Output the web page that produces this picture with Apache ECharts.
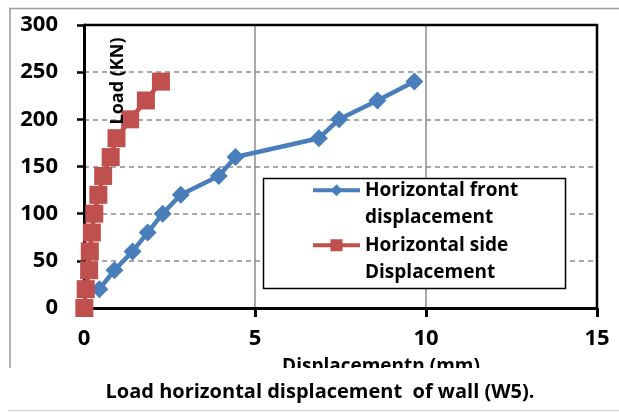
<!DOCTYPE html>
<html>
<head>
<meta charset="utf-8">
<script src="https://cdn.jsdelivr.net/npm/echarts@6/dist/echarts.min.js"></script>
<style>
  html, body { margin: 0; padding: 0; background: #fff; }
  #chart { width: 619px; height: 412px; }
</style>
</head>
<body>
<div id="chart"></div>
<script>
// Load vs. horizontal displacement of wall W5
const loadKN = [0, 20, 40, 60, 80, 100, 120, 140, 160, 180, 200, 220, 240];
const frontLoad = [20, 40, 60, 80, 100, 120, 140, 160, 180, 200, 220, 240];
const frontDisp = [0.45, 0.89, 1.42, 1.86, 2.30, 2.83, 3.94, 4.43, 6.87, 7.46, 8.58, 9.66];
const sideDisp = [0.01, 0.05, 0.15, 0.17, 0.23, 0.30, 0.42, 0.56, 0.78, 0.95, 1.35, 1.81, 2.25];
const xTicks = [0, 5, 10, 15];
const yTicks = [0, 50, 100, 150, 200, 250, 300];
const seriesNames = ['Horizontal front\ndisplacement', 'Horizontal side\nDisplacement'];

const FONT = '"Open Sans"';
const BLUE = '#4a7ebb';
const RED = '#c0504d';
const LINE_H = 27.5;

const chart = echarts.init(document.getElementById('chart'));

chart.setOption({
  animation: false,
  backgroundColor: '#fff',
  textStyle: { fontFamily: FONT },
  grid: { left: 84, right: 22, top: 25, bottom: 104, show: false },
  xAxis: {
    type: 'value',
    min: xTicks[0],
    max: xTicks[xTicks.length - 1],
    interval: 5,
    axisLine: { show: true, onZero: false, lineStyle: { color: '#000', width: 3 } },
    axisTick: { show: true, length: 9, lineStyle: { color: '#000', width: 3 } },
    axisLabel: { color: '#000', fontSize: 22, fontWeight: 'bold', fontFamily: FONT, margin: 20 },
    splitLine: { show: true, lineStyle: { color: '#8c8c8c', width: 1.5, type: 'solid' } }
  },
  yAxis: {
    type: 'value',
    min: yTicks[0],
    max: yTicks[yTicks.length - 1],
    interval: 50,
    axisLine: { show: true, onZero: false, lineStyle: { color: '#000', width: 3 } },
    axisTick: { show: true, length: 7, lineStyle: { color: '#000', width: 2.5 } },
    axisLabel: { color: '#000', fontSize: 22, fontWeight: 'bold', fontFamily: FONT, margin: 26 },
    splitLine: { show: true, lineStyle: { color: '#8c8c8c', width: 1.5, type: [5, 4] } }
  },
  legend: {
    orient: 'vertical',
    left: 311,
    top: 149,
    padding: 0,
    itemGap: -LINE_H,
    itemWidth: 47,
    itemHeight: 15,
    z: 6,
    lineStyle: { width: 4 },
    formatter: name => '\n' + name,
    textStyle: {
      fontFamily: FONT, fontSize: 19, fontWeight: 'bold', color: '#000',
      lineHeight: LINE_H
    },
    data: seriesNames
  },
  graphic: [
    // plot frame (top and right edges)
    {
      type: 'polyline', z: 5, silent: true,
      shape: { points: [[84, 25], [597, 25], [597, 308]] },
      style: { stroke: '#000', lineWidth: 2.5, fill: null }
    },
    // outer chart border
    {
      type: 'polyline', z: 5, silent: true,
      shape: { points: [[10, 368], [10, 8.5], [619, 8.5]] },
      style: { stroke: '#9a9a9a', lineWidth: 1.5, fill: null }
    },
    // legend box
    {
      type: 'rect', z: 5, silent: true,
      shape: { x: 263.5, y: 178.5, width: 302, height: 110 },
      style: { fill: '#fff', stroke: '#000', lineWidth: 1.5 }
    },
    // y-axis title
    {
      type: 'text', z: 5, silent: true,
      x: 118, y: 81, rotation: Math.PI / 2,
      style: {
        text: 'Load (KN)', fontFamily: FONT, fontSize: 18, fontWeight: 'bold',
        fill: '#000', align: 'center', verticalAlign: 'middle'
      }
    },
    // x-axis title
    {
      type: 'text', z: 5, silent: true,
      x: 381, y: 367,
      style: {
        text: 'Displacementn (mm)', fontFamily: FONT, fontSize: 19, fontWeight: 'bold',
        fill: '#000', align: 'center', verticalAlign: 'middle'
      }
    },
    // caption strip
    {
      type: 'rect', z: 10, silent: true,
      shape: { x: 0, y: 368, width: 619, height: 44 },
      style: { fill: '#fff' }
    },
    {
      type: 'line', z: 11, silent: true,
      shape: { x1: 8, y1: 410.5, x2: 619, y2: 410.5 },
      style: { stroke: '#d9d9d9', lineWidth: 1.5 }
    },
    {
      type: 'text', z: 11, silent: true,
      x: 320, y: 392,
      style: {
        text: 'Load horizontal displacement  of wall (W5).', fontFamily: FONT,
        fontSize: 20, fontWeight: 'bold', fill: '#000',
        align: 'center', verticalAlign: 'middle'
      }
    }
  ],
  series: [
    {
      name: seriesNames[0],
      type: 'line',
      data: frontDisp.map((d, i) => [d, frontLoad[i]]),
      symbol: 'diamond',
      symbolSize: 18,
      lineStyle: { color: BLUE, width: 4.5 },
      itemStyle: { color: BLUE },
      z: 3
    },
    {
      name: seriesNames[1],
      type: 'line',
      data: sideDisp.map((d, i) => [d, loadKN[i]]),
      symbol: 'rect',
      symbolSize: 18,
      lineStyle: { color: RED, width: 4.5 },
      itemStyle: { color: RED },
      z: 3
    }
  ]
});
</script>
</body>
</html>
